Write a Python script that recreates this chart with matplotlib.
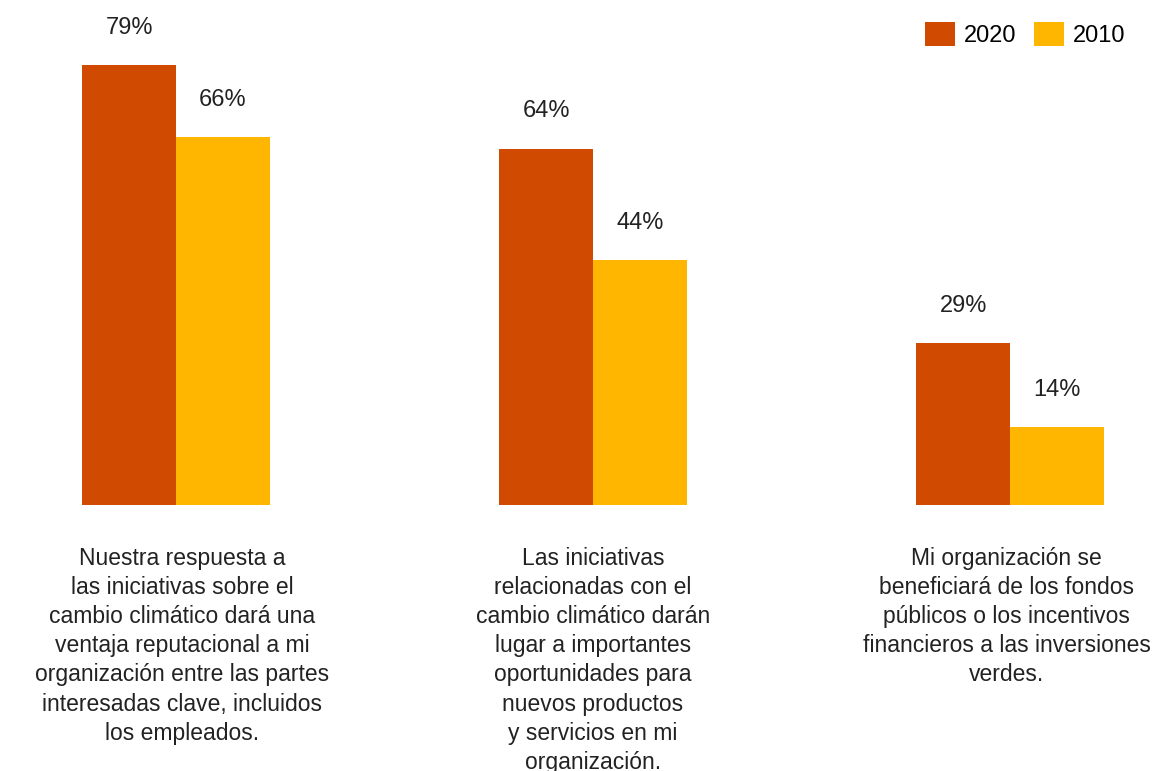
import matplotlib.pyplot as plt
import numpy as np

plt.rcParams['font.family'] = ['Liberation Sans', 'DejaVu Sans']

categories = [
    "Nuestra respuesta a\nlas iniciativas sobre el\ncambio climático dará una\nventaja reputacional a mi\norganización entre las partes\ninteresadas clave, incluidos\nlos empleados.",
    "Las iniciativas\nrelacionadas con el\ncambio climático darán\nlugar a importantes\noportunidades para\nnuevos productos\ny servicios en mi\norganización.",
    "Mi organización se\nbeneficiará de los fondos\npúblicos o los incentivos\nfinancieros a las inversiones\nverdes.",
]
values_2020 = [79, 64, 29]
values_2010 = [66, 44, 14]
series_labels = ["2020", "2010"]
colors = ["#D04A02", "#FFB600"]

fig = plt.figure(figsize=(11.59, 7.71), dpi=100)
# axes baseline sits at y=505px from the top
ax = fig.add_axes([0, (771 - 505) / 771, 1, 505 / 771])

x = np.arange(len(categories))
w = 0.225
b1 = ax.bar(x - w / 2, values_2020, w, color=colors[0], label=series_labels[0])
b2 = ax.bar(x + w / 2, values_2010, w, color=colors[1], label=series_labels[1])

for bars, vals in [(b1, values_2020), (b2, values_2010)]:
    for bar, v in zip(bars, vals):
        ax.text(bar.get_x() + bar.get_width() / 2, v + 6.7, f"{v}%",
                ha='center', va='center', fontsize=17, color='#222222')

ax.set_xlim(-176 / 417, (1159 - 176) / 417)
ax.set_ylim(0, 505 / 5.57)
ax.axis('off')

# category labels under each group
label_x = [x[0] + 0.015, x[1], x[2] - 0.008]
for xi, label in zip(label_x, categories):
    ax.text(xi, -0.083, label, transform=ax.get_xaxis_transform(),
            ha='center', va='top', fontsize=16.5, linespacing=1.34, color='#222222')

ax.legend(loc='upper right', bbox_to_anchor=(0.979, 0.975), ncol=2, frameon=False,
          fontsize=17, handlelength=1.27, handleheight=1.2, handletextpad=0.38,
          columnspacing=0.72, borderaxespad=0)

fig.savefig("out.png", dpi=100)
